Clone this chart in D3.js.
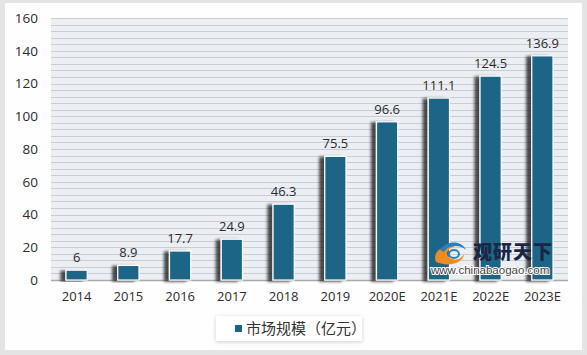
<!DOCTYPE html>
<html><head><meta charset="utf-8">
<script src="https://cdn.jsdelivr.net/npm/d3@7"></script>
<style>html,body{margin:0;padding:0;background:#e4e4e4;}svg{display:block;}</style>
</head><body>
<script>
const categories = ["2014","2015","2016","2017","2018","2019","2020E","2021E","2022E","2023E"];
const values = [6, 8.9, 17.7, 24.9, 46.3, 75.5, 96.6, 111.1, 124.5, 136.9];
const yTicks = [0, 20, 40, 60, 80, 100, 120, 140, 160];
const seriesName = "市场规模（亿元）";

const W = 587, H = 355;
const svg = d3.select("body").append("svg").attr("width", W).attr("height", H);
const defs = svg.append("defs");
const f = defs.append("filter").attr("id","sh").attr("x","-60%").attr("y","-20%").attr("width","220%").attr("height","140%");
f.append("feGaussianBlur").attr("in","SourceAlpha").attr("stdDeviation",1.8).attr("result","b");
f.append("feOffset").attr("in","b").attr("dx",-5).attr("dy",1).attr("result","o");
f.append("feComponentTransfer").attr("in","o").attr("result","o2").append("feFuncA").attr("type","linear").attr("slope",0.7);
const m = f.append("feMerge"); m.append("feMergeNode").attr("in","o2"); m.append("feMergeNode").attr("in","SourceGraphic");
const lf = defs.append("filter").attr("id","lsh").attr("x","-20%").attr("y","-50%").attr("width","140%").attr("height","200%");
lf.append("feDropShadow").attr("dx",0).attr("dy",1).attr("stdDeviation",2).attr("flood-color","#000").attr("flood-opacity",0.18);

// white panel
svg.append("rect").attr("x",5).attr("y",3).attr("width",577).attr("height",347).attr("fill","#fefefe");

const margin = {left:51, right:19, top:18, bottom:75};
const x = d3.scaleBand().domain(categories).range([margin.left, W - margin.right]).paddingInner(0.59).paddingOuter(0.29);
const y = d3.scaleLinear().domain([0,160]).range([280, 18]);

// plot background
svg.append("rect").attr("x",margin.left).attr("y",y(160)).attr("width",W-margin.right-margin.left).attr("height",y(0)-y(160)).attr("fill","#ebeff4");
// striped grid lines every 4
const minor = d3.range(0,161,4);
svg.append("g").selectAll("line").data(minor).join("line")
  .attr("x1",margin.left).attr("x2",W-margin.right)
  .attr("y1",d=>Math.round(y(d))+0.5).attr("y2",d=>Math.round(y(d))+0.5)
  .attr("stroke",d=>d===0?"#a8a8a8":"#c9ccd1").attr("stroke-width",d=>d===0?1.5:1);

// bars
svg.append("g").selectAll("rect").data(values).join("rect")
  .attr("x",(d,i)=>x(categories[i])).attr("width",x.bandwidth())
  .attr("y",d=>y(d)).attr("height",d=>y(0)-y(d))
  .attr("fill","#1b6587").attr("stroke","#ffffff").attr("stroke-width",1.2)
  .attr("filter","url(#sh)");

// value labels
svg.append("g").selectAll("text").data(values).join("text")
  .attr("x",(d,i)=>x(categories[i])+x.bandwidth()/2).attr("y",d=>y(d)-8)
  .attr("text-anchor","middle").attr("font-family","'Open Sans', 'DejaVu Sans', sans-serif")
  .attr("font-size",13).attr("fill","#2b2b2b").text(d=>d);

// axes
const xa = svg.append("g").attr("transform",`translate(0,${y(0)})`)
  .call(d3.axisBottom(x).tickSize(0).tickPadding(12));
xa.select(".domain").remove();
xa.selectAll("text").attr("font-family","'Open Sans', 'DejaVu Sans', sans-serif").attr("font-size",13).attr("fill","#2b2b2b");
const ya = svg.append("g").attr("transform",`translate(38,0)`)
  .call(d3.axisLeft(y).tickValues(yTicks).tickSize(0).tickPadding(0));
ya.select(".domain").remove();
ya.selectAll("text").attr("font-family","'Open Sans', 'DejaVu Sans', sans-serif").attr("font-size",13.5).attr("fill","#2b2b2b");

// legend
const lg = svg.append("g");
lg.append("rect").attr("x",216).attr("y",316).attr("width",146).attr("height",25).attr("fill","#fff").attr("filter","url(#lsh)");
lg.append("rect").attr("x",235).attr("y",325).attr("width",7).attr("height",7).attr("fill","#1b6587");
lg.append("text").attr("x",246).attr("y",334).attr("font-family","'Noto Sans CJK SC', sans-serif").attr("font-size",15).attr("fill","#333").text(seriesName);

// watermark
const wm = svg.append("g");
wm.append("path").attr("d","M436,262 C432,252 442,244 456,246 C448,248 444,254 450,258 C456,262 462,258 464,254 C464,262 450,268 436,262 Z").attr("fill","#f08c1e");
wm.append("path").attr("d","M440,250 C446,240 462,240 466,250 C460,244 448,245 444,252 Z").attr("fill","#2a7fc0");
wm.append("ellipse").attr("cx",454).attr("cy",254).attr("rx",5).attr("ry",4).attr("fill","none").attr("stroke","#2a7fc0").attr("stroke-width",2);
wm.append("text").attr("x",473).attr("y",259).attr("font-family","'Noto Sans CJK SC', sans-serif").attr("font-weight","900").attr("font-size",19).attr("fill","#1b2645").attr("letter-spacing",1).text("观研天下");
wm.append("text").attr("x",431).attr("y",274).attr("font-family","'Liberation Sans', Arial, sans-serif").attr("font-size",11.5).attr("fill","#444").attr("stroke","#fff").attr("stroke-width",2).attr("paint-order","stroke").text("www.chinabaogao.com");
</script>
</body></html>
